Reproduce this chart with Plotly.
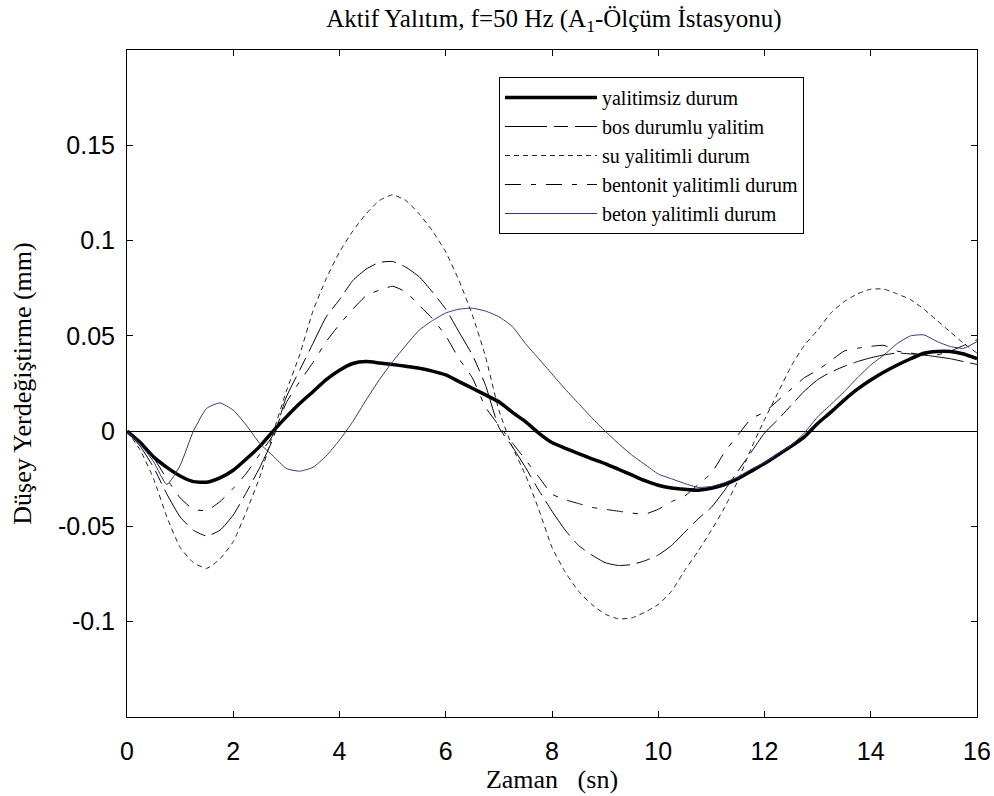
import plotly.graph_objects as go

# time axis (s)
t = [i * 0.25 for i in range(65)]

yalitimsiz = [0, -0.006, -0.0135, -0.019, -0.0235, -0.0265, -0.0268, -0.0245, -0.0205, -0.0145,
              -0.008, 0.0, 0.0075, 0.0145, 0.0207, 0.027, 0.032, 0.0355, 0.0365, 0.0358,
              0.035, 0.034, 0.033, 0.0315, 0.0295, 0.026, 0.0225, 0.019, 0.0154, 0.010,
              0.005, -0.001, -0.006, -0.009, -0.0118, -0.0145, -0.017, -0.020, -0.023, -0.026,
              -0.0284, -0.0298, -0.0305, -0.031, -0.030, -0.028, -0.025, -0.021, -0.017, -0.0125,
              -0.008, -0.003, 0.004, 0.010, 0.0163, 0.022, 0.0268, 0.031, 0.0347, 0.038,
              0.0409, 0.0418, 0.0418, 0.0405, 0.038]

bos = [0, -0.008, -0.019, -0.033, -0.045, -0.052, -0.055, -0.052, -0.044, -0.032,
       -0.019, -0.004, 0.018, 0.032, 0.046, 0.060, 0.069, 0.079, 0.085, 0.0885,
       0.089, 0.086, 0.081, 0.073, 0.064, 0.052, 0.040, 0.024, 0.002, -0.008,
       -0.019, -0.031, -0.042, -0.052, -0.060, -0.065, -0.069, -0.0705, -0.070, -0.068,
       -0.065, -0.060, -0.053, -0.046, -0.040, -0.031, -0.021, -0.011, -0.001, 0.006,
       0.0135, 0.021, 0.027, 0.031, 0.034, 0.0365, 0.0385, 0.040, 0.041, 0.0405,
       0.040, 0.039, 0.038, 0.0365, 0.035]

su = [0, -0.010, -0.025, -0.045, -0.061, -0.069, -0.072, -0.067, -0.058, -0.042,
      -0.024, -0.001, 0.021, 0.040, 0.063, 0.080, 0.094, 0.105, 0.114, 0.121,
      0.124, 0.121, 0.114, 0.105, 0.094, 0.079, 0.061, 0.039, 0.011, -0.008,
      -0.023, -0.041, -0.061, -0.074, -0.084, -0.091, -0.096, -0.0985, -0.098, -0.095,
      -0.091, -0.084, -0.073, -0.063, -0.052, -0.040, -0.026, -0.009, 0.006, 0.020,
      0.034, 0.045, 0.053, 0.062, 0.068, 0.072, 0.0745, 0.0745, 0.072, 0.069,
      0.064, 0.058, 0.052, 0.046, 0.041]

bentonit = [0, -0.006, -0.014, -0.025, -0.035, -0.041, -0.0416, -0.037, -0.030, -0.022,
            -0.012, -0.002, 0.015, 0.026, 0.036, 0.047, 0.056, 0.064, 0.071, 0.074,
            0.076, 0.073, 0.066, 0.059, 0.050, 0.038, 0.028, 0.0125, 0.003, -0.006,
            -0.015, -0.024, -0.033, -0.036, -0.038, -0.040, -0.041, -0.042, -0.043, -0.0435,
            -0.041, -0.037, -0.034, -0.028, -0.022, -0.011, -0.002, 0.0065, 0.010, 0.016,
            0.022, 0.028, 0.032, 0.037, 0.042, 0.0435, 0.0445, 0.045, 0.042, 0.041,
            0.040, 0.040, 0.042, 0.045, 0.048]

beton = [0, -0.007, -0.016, -0.028, -0.018, 0.0, 0.012, 0.0148, 0.011, 0.003,
         -0.0065, -0.013, -0.0196, -0.021, -0.019, -0.013, -0.0047, 0.005, 0.0163, 0.027,
         0.0365, 0.045, 0.053, 0.058, 0.062, 0.064, 0.0645, 0.063, 0.060, 0.055,
         0.046, 0.038, 0.030, 0.022, 0.0145, 0.007, 0.0, -0.0065, -0.0125, -0.0175,
         -0.0225, -0.025, -0.0275, -0.0295, -0.029, -0.027, -0.024, -0.020, -0.0165, -0.012,
         -0.0074, -0.001, 0.0075, 0.014, 0.0207, 0.028, 0.0347, 0.040, 0.046, 0.050,
         0.0505, 0.047, 0.0444, 0.0435, 0.047]

series_names = ["yalitimsiz durum", "bos durumlu yalitim", "su yalitimli durum",
                "bentonit yalitimli durum", "beton yalitimli durum"]

x_ticks = [0, 2, 4, 6, 8, 10, 12, 14, 16]
y_ticks = [-0.1, -0.05, 0, 0.05, 0.1, 0.15]
y_tick_text = ["-0.1", "-0.05", "0", "0.05", "0.1", "0.15"]

styles = [
    dict(color="black", width=3.5, dash="solid"),
    dict(color="black", width=1, dash="42px,7px,14px,7px"),
    dict(color="#222222", width=1, dash="5px,4px"),
    dict(color="black", width=1, dash="16px,10px,5px,10px"),
    dict(color="#34347e", width=1, dash="solid"),
]

fig = go.Figure()
for name, ys, st in zip(series_names, [yalitimsiz, bos, su, bentonit, beton], styles):
    fig.add_trace(go.Scatter(x=t, y=ys, mode="lines", name=name,
                             line=dict(color=st["color"], width=st["width"], dash=st["dash"],
                                       shape="spline", smoothing=0.5)))

serif = "Liberation Serif, Times New Roman, serif"
sans = "Liberation Sans, Arial, sans-serif"

fig.update_layout(
    width=994, height=796,
    margin=dict(l=127, r=17, t=50, b=79, autoexpand=False),
    paper_bgcolor="white", plot_bgcolor="white",
    title=dict(text="Aktif Yalıtım, f=50 Hz (A<sub>1</sub>-Ölçüm İstasyonu)",
               x=0.5573, xanchor="center", y=0.977, yanchor="middle",
               font=dict(family=serif, size=25, color="black")),
    showlegend=True,
    legend=dict(x=0.4376, y=0.9595, xanchor="left", yanchor="top",
                bgcolor="white", bordercolor="black", borderwidth=1,
                font=dict(family=serif, size=20, color="black"),
                itemwidth=92, tracegroupgap=0),
    xaxis=dict(range=[0, 16], tickvals=x_ticks, ticks="inside", ticklen=6,
               tickcolor="black", showline=True, linecolor="black", linewidth=1,
               mirror="ticks", showgrid=False, zeroline=False, automargin=False,
               tickfont=dict(family=sans, size=25, color="black"),
               ticklabelstandoff=12,
               title=dict(text="Zaman   (sn)", standoff=0,
                          font=dict(family=serif, size=26, color="black"))),
    yaxis=dict(range=[-0.15, 0.2], tickvals=y_ticks, ticktext=y_tick_text,
               ticks="inside", ticklen=6, tickcolor="black", showline=True,
               linecolor="black", linewidth=1, mirror="ticks", showgrid=False,
               zeroline=True, zerolinecolor="black", zerolinewidth=1, automargin=False,
               tickfont=dict(family=sans, size=25, color="black"),
               ticklabelstandoff=6,
               title=dict(text="Düşey Yerdeğiştirme (mm)", standoff=18,
                          font=dict(family=serif, size=26, color="black"))),
)

fig.write_html("out.html", config={"displayModeBar": False},
               post_script="document.body.style.margin='0';document.body.style.overflow='hidden';")
